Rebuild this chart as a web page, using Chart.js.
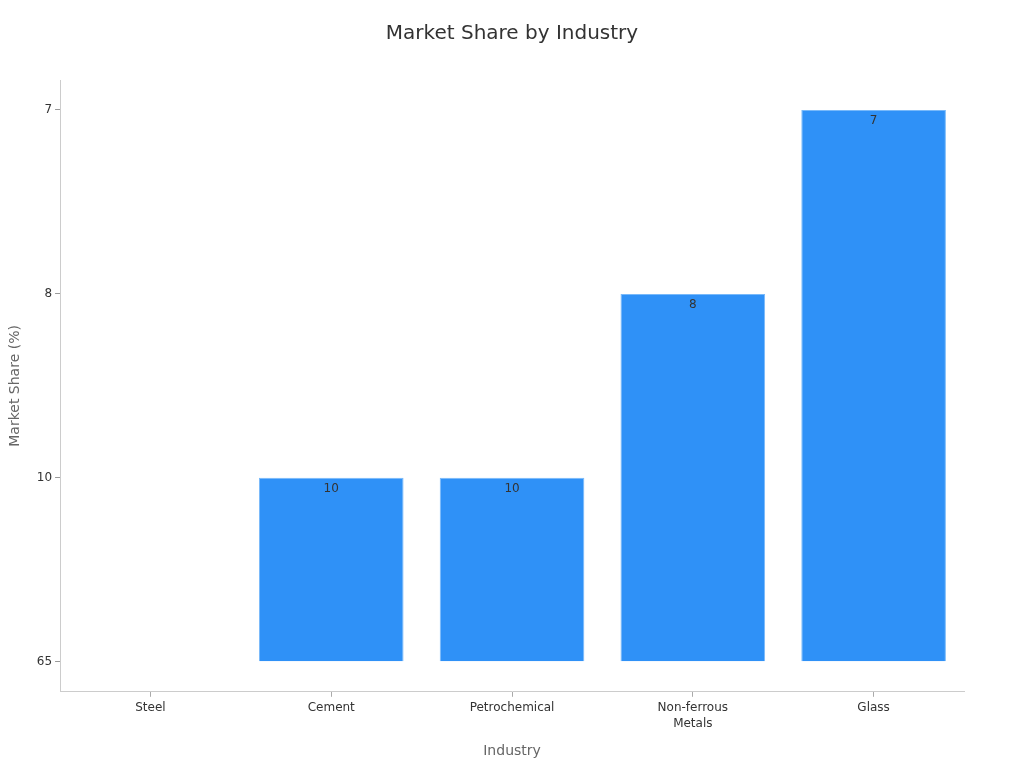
<!DOCTYPE html>
<html>
<head>
<meta charset="utf-8">
<script src="https://cdn.jsdelivr.net/npm/chart.js@4/dist/chart.umd.min.js"></script>
<style>
  html, body { margin: 0; padding: 0; background: #fff; }
  #wrap { width: 1024px; height: 768px; }
</style>
</head>
<body>
<div id="wrap"><canvas id="chartMarketShare"></canvas></div>
<script>
// categories and values
const industries = ["Steel", "Cement", "Petrochemical", ["Non-ferrous", "Metals"], "Glass"];
const marketShare = [65, 10, 10, 8, 7];
// the y axis is categorical: bottom to top
const yTickLabels = ["65", "10", "8", "7"];
const chartTitle = "Market Share by Industry";

const barIndex = marketShare.map(v => yTickLabels.indexOf(String(v)));

// draws the value just inside the top of each bar, and the title centred on the page
const barValueLabels = {
    id: "barValueLabels",
    afterDatasetsDraw(chart) {
        const ctx = chart.ctx;
        const meta = chart.getDatasetMeta(0);
        ctx.save();
        ctx.font = "12px 'DejaVu Sans'";
        ctx.fillStyle = "#333";
        ctx.textAlign = "center";
        ctx.textBaseline = "middle";
        meta.data.forEach((bar, i) => {
            if (barIndex[i] <= 0) return;
            ctx.fillText(String(marketShare[i]), bar.x, bar.y + 11);
        });
        ctx.font = "20px 'DejaVu Sans'";
        ctx.fillText(chartTitle, chart.width / 2, 34);
        ctx.restore();
    }
};

const ctx = document.getElementById("chartMarketShare").getContext("2d");
const chart = new Chart(ctx, {
    type: "bar",
    data: {
        labels: industries,
        datasets: [{
            data: barIndex,
            backgroundColor: "rgb(47, 145, 247)",
            borderColor: "rgb(120, 185, 250)",
            borderWidth: 1,
            barPercentage: 0.8,
            categoryPercentage: 1.0
        }]
    },
    options: {
        responsive: true,
        maintainAspectRatio: false,
        animation: false,
        layout: { padding: { left: 3, right: 60, top: 80, bottom: 4 } },
        plugins: {
            legend: { display: false },
            tooltip: { enabled: false },
            title: { display: false }
        },
        scales: {
            x: {
                grid: { display: true, offset: false, drawOnChartArea: false, tickLength: 5, color: "#aaa" },
                border: { color: "#ccc" },
                ticks: { color: "#333", font: { family: "'DejaVu Sans'", size: 12, lineHeight: 1.35 }, maxRotation: 0, padding: 3 },
                title: {
                    display: true, text: "Industry", color: "#666",
                    font: { family: "'DejaVu Sans'", size: 14 }, padding: { top: 8 }
                }
            },
            y: {
                type: "linear",
                min: -0.163,
                max: 3.163,
                grid: { display: true, drawOnChartArea: false, tickLength: 5, color: "#999" },
                border: { color: "#ccc" },
                ticks: {
                    stepSize: 1,
                    includeBounds: false,
                    color: "#333",
                    font: { family: "'DejaVu Sans'", size: 12 },
                    padding: 3,
                    callback: function(value) {
                        return yTickLabels[value];
                    }
                },
                title: {
                    display: true, text: "Market Share (%)", color: "#666",
                    font: { family: "'DejaVu Sans'", size: 14 }, padding: { bottom: 10 }
                }
            }
        }
    },
    plugins: [barValueLabels]
});
</script>
</body>
</html>
